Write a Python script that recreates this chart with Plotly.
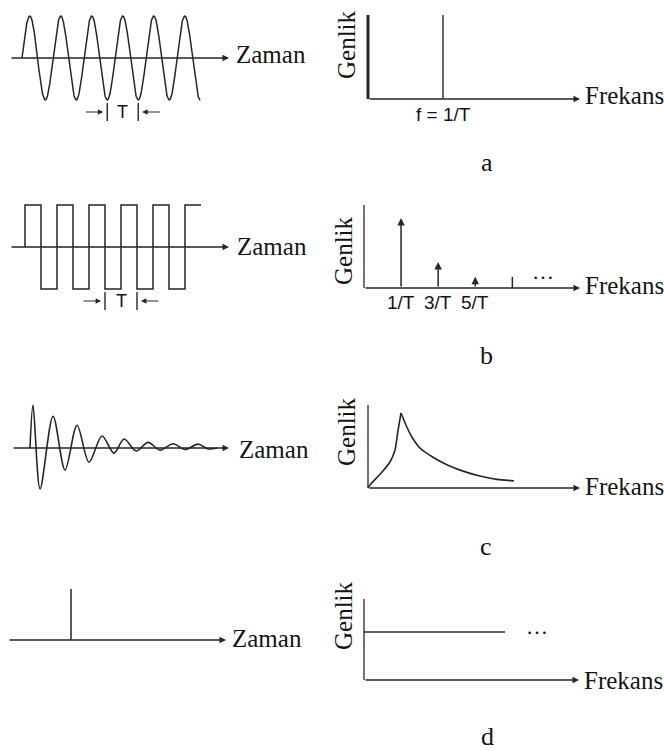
import numpy as np
import plotly.graph_objects as go

W, H = 664, 751
INK = "#262626"
TEXT = "#141414"
SERIF = "Liberation Serif, Times New Roman, serif"
NARROW = "Liberation Sans Narrow, Arial Narrow, Liberation Sans, Arial, sans-serif"

# ---------------- data ----------------
# (a) pure sine, time in units of the period T
sine_cycles = 5.75
sine_freq = [1.0]          # spectral line position (1/T)
sine_line_amp = [1.0]

# (b) square wave, one level per half period
square_levels = [1, -1, 1, -1, 1, -1, 1, -1, 1, -1, 1]
square_half = 0.5
harm_freq = [1, 3, 5, 7]
harm_amp = [1.0, 0.37, 0.16, 0.16]
harm_arrow = [True, True, True, False]
harm_labels = ["1/T", "3/T", "5/T", ""]

# (c) damped oscillation: extrema of the decaying wave
damped_t = [0, 0.125, 0.42, 0.96, 1.46, 1.96, 2.46, 3.0, 3.5, 3.92, 4.42,
            4.92, 5.42, 5.96, 6.46, 7.0, 7.42, 7.8]
damped_y = [0, 1.0, -0.95, 0.74, -0.51, 0.53, -0.33, 0.28, -0.12, 0.21,
            -0.07, 0.13, -0.05, 0.10, -0.035, 0.09, -0.02, 0]
# its spectrum: rising flank up to the resonance peak, then the decaying tail
spec_c_rise_f = [0, 0.06, 0.42, 0.67, 0.82, 0.91, 1.0]
spec_c_rise_a = [0, 0.04, 0.21, 0.35, 0.51, 0.77, 1.0]
spec_c_tail_f = [1.0, 1.18, 1.33, 1.58, 1.97, 2.39, 2.88, 3.39, 3.91, 4.42]
spec_c_tail_a = [1.0, 0.81, 0.68, 0.53, 0.41, 0.31, 0.225, 0.16, 0.115, 0.095]

# (d) impulse and its flat spectrum
impulse_t = [0]
impulse_amp = [1.0]
flat_f = [0, 4]
flat_amp = [1.0, 1.0]

# ---------------- layout helpers ----------------
layout_axes = {}
annotations = []
traces = []


def panel(idx, box, xo, xs, yo, ys):
    """Subplot whose data units map to pixels: px = xo + xs*u, py = yo - ys*v."""
    L, T, R, B = box
    sfx = "" if idx == 1 else str(idx)
    layout_axes["xaxis" + sfx] = dict(domain=[L / W, R / W],
                                      range=[(L - xo) / xs, (R - xo) / xs],
                                      visible=False, fixedrange=True,
                                      anchor="y" + sfx)
    layout_axes["yaxis" + sfx] = dict(domain=[1 - B / H, 1 - T / H],
                                      range=[(yo - B) / ys, (yo - T) / ys],
                                      visible=False, fixedrange=True,
                                      anchor="x" + sfx)
    return dict(x="x" + sfx, y="y" + sfx, xo=xo, xs=xs, yo=yo, ys=ys)


def ux(p, px):
    return (px - p["xo"]) / p["xs"]


def uy(p, py):
    return (p["yo"] - py) / p["ys"]


def line(p, x, y, width=1.5, color=INK, shape="linear", smoothing=1.0):
    traces.append(go.Scatter(x=list(x), y=list(y), mode="lines",
                             line=dict(color=color, width=width, shape=shape,
                                       smoothing=smoothing),
                             xaxis=p["x"], yaxis=p["y"], showlegend=False,
                             hoverinfo="skip"))


def arrow(p, x0, y0, x1, y1, width=1.3, head=2, size=1.0, color=INK):
    annotations.append(dict(x=x1, y=y1, ax=x0, ay=y0, xref=p["x"], yref=p["y"],
                            axref=p["x"], ayref=p["y"], text="", showarrow=True,
                            arrowhead=head, arrowsize=size, arrowwidth=width,
                            arrowcolor=color, standoff=0, startstandoff=0))


def text_data(p, s, x, y, size, family=NARROW, xanchor="center"):
    annotations.append(dict(x=x, y=y, xref=p["x"], yref=p["y"], text=s,
                            showarrow=False, xanchor=xanchor, yanchor="middle",
                            font=dict(family=family, size=size, color=TEXT)))


def text_px(s, px, py, size=25, family=SERIF, xanchor="center", angle=0):
    annotations.append(dict(x=px / W, y=1 - py / H, xref="paper", yref="paper",
                            text=s, showarrow=False, xanchor=xanchor,
                            yanchor="middle", textangle=angle,
                            font=dict(family=family, size=size, color=TEXT)))


def time_axis(p, px0, px1, label_px, label_py):
    arrow(p, ux(p, px0), 0, ux(p, px1), 0)
    text_px("Zaman", label_px, label_py, xanchor="left")


def freq_axes(p, px0, px1, top_py, label_py, genlik_px, genlik_py, ywidth=1.3):
    x0 = ux(p, px0)
    line(p, [x0, x0], [0, uy(p, top_py)], width=ywidth)
    arrow(p, x0, 0, ux(p, px1), 0)
    text_px("Frekans", px1 + 3, label_py, xanchor="left")
    text_px("Genlik", genlik_px, genlik_py, angle=-90)


def period_marker(p, ta, tb, py):
    """→| T |← marker spanning one period between ta and tb."""
    yc = uy(p, py)
    half = 9 / p["ys"]
    for t in (ta, tb):
        line(p, [t, t], [yc - half, yc + half], width=1.4)
    off_near, off_far = 4 / p["xs"], 23 / p["xs"]
    arrow(p, ta - off_far, yc, ta - off_near, yc, width=1.2, head=2, size=0.9)
    arrow(p, tb + off_far, yc, tb + off_near, yc, width=1.2, head=2, size=0.9)
    text_data(p, "T", (ta + tb) / 2, yc, 18)


# ---------------- (a) sine ----------------
pa = panel(1, (2, 5, 234, 130), xo=22, xs=31, yo=58, ys=42)
time_axis(pa, 10, 229, 234, 55)
t = np.linspace(0, sine_cycles, 800)
line(pa, t, np.sin(2 * np.pi * t), width=1.5)
period_marker(pa, 2.75, 3.75, 112)

pa2 = panel(2, (355, 5, 585, 130), xo=368, xs=75, yo=99, ys=84)
freq_axes(pa2, 368, 580, 15, 96, 346, 45, ywidth=3)
for f, a in zip(sine_freq, sine_line_amp):
    line(pa2, [f, f], [0, a], width=1.4)
    text_data(pa2, "f = 1/T", f, uy(pa2, 114), 19)
text_px("a", 487, 163, size=26)

# ---------------- (b) square ----------------
pb = panel(3, (2, 195, 234, 320), xo=25, xs=32, yo=247, ys=42)
time_axis(pb, 10, 229, 235, 246)
sx, sy = [0.0], [0.0]
for i, lev in enumerate(square_levels):
    sx += [i * square_half, (i + 1) * square_half]
    sy += [lev, lev]
line(pb, sx, sy, width=1.5)
period_marker(pb, 2.5, 3.5, 301)

pb2 = panel(4, (355, 195, 585, 320), xo=382.5, xs=18.55, yo=288, ys=70)
freq_axes(pb2, 364, 580, 205, 286, 343, 251)
for f, a, has_head, lab in zip(harm_freq, harm_amp, harm_arrow, harm_labels):
    if has_head:
        arrow(pb2, f, 0, f, a, width=1.5, head=2, size=1.0)
    else:
        line(pb2, [f, f], [0, a], width=1.5)
    if lab:
        text_data(pb2, lab, f, uy(pb2, 302), 19)
text_data(pb2, "…", ux(pb2, 543), uy(pb2, 271), 22, family=SERIF)
text_px("b", 486, 355, size=26)

# ---------------- (c) damped ----------------
pc = panel(5, (2, 395, 234, 500), xo=30, xs=24, yo=448, ys=43)
time_axis(pc, 12, 229, 237, 449)
line(pc, damped_t, damped_y, width=1.6, shape="spline", smoothing=0.9)

pc2 = panel(6, (355, 395, 585, 500), xo=368, xs=33, yo=488, ys=75)
freq_axes(pc2, 368, 580, 405, 487, 346, 432)
line(pc2, spec_c_rise_f, spec_c_rise_a, width=1.6, shape="spline", smoothing=0.6)
line(pc2, spec_c_tail_f, spec_c_tail_a, width=1.6, shape="spline", smoothing=0.6)
text_px("c", 486, 546, size=26)

# ---------------- (d) impulse ----------------
pd_ = panel(7, (2, 580, 234, 660), xo=71, xs=20, yo=640, ys=51)
time_axis(pd_, 8, 226, 230, 638)
for t0, a in zip(impulse_t, impulse_amp):
    line(pd_, [t0, t0], [0, a], width=1.5)

pd2 = panel(8, (355, 590, 585, 690), xo=364, xs=35.25, yo=680, ys=48)
freq_axes(pd2, 364, 579, 599, 680, 343, 616)
line(pd2, flat_f, flat_amp, width=1.5)
text_data(pd2, "…", ux(pd2, 537), uy(pd2, 626), 22, family=SERIF)
text_px("d", 487, 736, size=26)

fig = go.Figure(data=traces)
fig.update_layout(width=W, height=H, margin=dict(l=0, r=0, t=0, b=0),
                  paper_bgcolor="white", plot_bgcolor="rgba(0,0,0,0)",
                  showlegend=False, annotations=annotations, **layout_axes)
fig.write_html("out.html", config={"displayModeBar": False})
